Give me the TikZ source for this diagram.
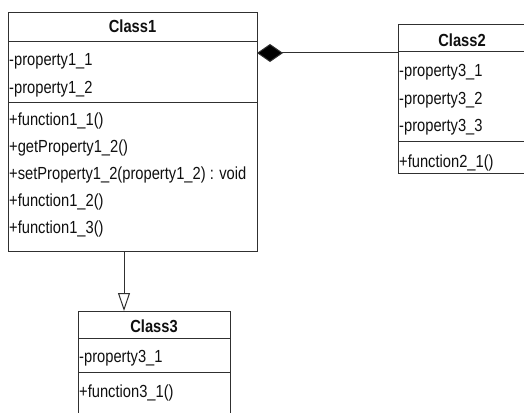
\documentclass[tikz,border=0pt]{standalone}
\usepackage{fontspec}
\setmainfont{Liberation Sans}[FakeStretch=0.84]
\usetikzlibrary{arrows.meta}
\definecolor{linec}{HTML}{303030}
\definecolor{txtc}{HTML}{101010}
\tikzset{
  box/.style={draw=linec, line width=1pt, inner sep=0pt, outer sep=0pt, fill=white},
  sep/.style={draw=linec, line width=1pt},
  lbl/.style={anchor=base west, inner sep=0pt, text=txtc, font=\fontsize{17.5}{20}\selectfont},
  ttl/.style={anchor=base, inner sep=0pt, text=txtc, font=\fontsize{17.5}{20}\selectfont\bfseries},
  comp/.style={draw=linec, line width=1pt, -{Diamond[length=26pt,width=18pt,fill=black]}},
  gen/.style={draw=linec, line width=1pt, -{Triangle[open,length=18pt,width=12pt,fill=white]}}
}
\begin{document}
\begin{tikzpicture}[x=1pt,y=-1pt]
\useasboundingbox (0,0) rectangle (524,412);
\clip (0,0) rectangle (524,412);
\fill[white] (0,0) rectangle (524,412);
% Class1
\node[box, minimum width=249pt, minimum height=238pt] (c1) at (132.5,132) {};
\draw[sep] (c1.west |- 0,42) -- (c1.east |- 0,42);
\draw[sep] (c1.west |- 0,102) -- (c1.east |- 0,102);
\node[ttl] (c1t) at (132.5,33) {Class1};
\node[lbl] (c1a1) at (9,66) {-property1\_1};
\node[lbl] (c1a2) at (9,93) {-property1\_2};
\node[lbl] (c1m1) at (9,125) {+function1\_1()};
\node[lbl] (c1m2) at (9,152) {+getProperty1\_2()};
\node[lbl] (c1m3) at (9,179) {+setProperty1\_2(property1\_2) : void};
\node[lbl] (c1m4) at (9,206) {+function1\_2()};
\node[lbl] (c1m5) at (9,233) {+function1\_3()};
% Class2
\node[box, minimum width=128pt, minimum height=148pt] (c2) at (462,99) {};
\draw[sep] (c2.west |- 0,52) -- (c2.east |- 0,52);
\draw[sep] (c2.west |- 0,141) -- (c2.east |- 0,141);
\node[ttl] (c2t) at (462,46) {Class2};
\node[lbl] (c2a1) at (399,76) {-property3\_1};
\node[lbl] (c2a2) at (399,104) {-property3\_2};
\node[lbl] (c2a3) at (399,131) {-property3\_3};
\node[lbl] (c2m1) at (399,167) {+function2\_1()};
% Class3
\node[box, minimum width=152pt, minimum height=110pt] (c3) at (154,366) {};
\draw[sep] (c3.west |- 0,338) -- (c3.east |- 0,338);
\draw[sep] (c3.west |- 0,372) -- (c3.east |- 0,372);
\node[ttl] (c3t) at (154,332) {Class3};
\node[lbl] (c3a1) at (79,362) {-property3\_1};
\node[lbl] (c3m1) at (79,397) {+function3\_1()};
% connectors
\coordinate (dy) at (0,53);
\coordinate (gx) at (124,0);
\draw[comp] (c2.west |- dy) -- (c1.east |- dy);
\draw[gen] (c1.south -| gx) -- (c3.north -| gx);
\end{tikzpicture}
\end{document}
